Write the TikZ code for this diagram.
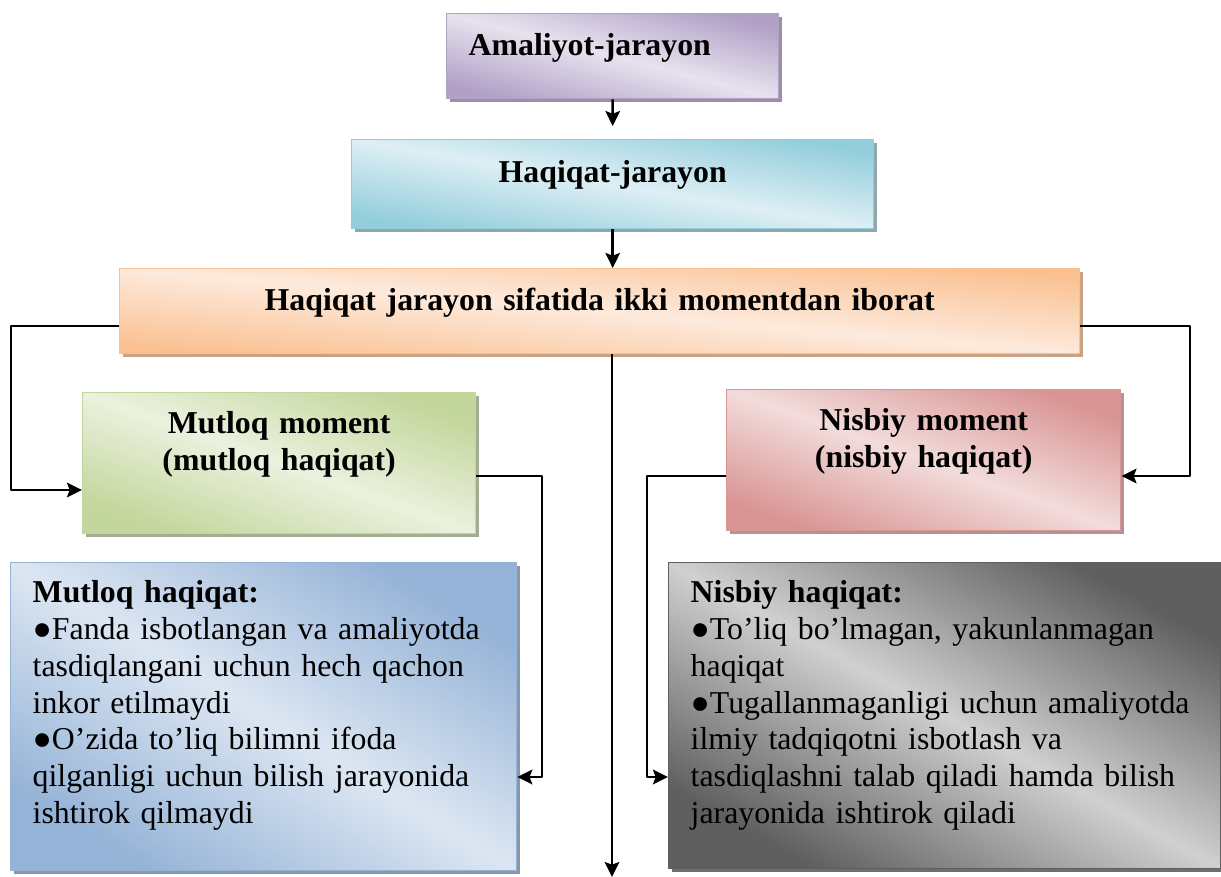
\documentclass[tikz,border=0pt]{standalone}
\usepackage{fontspec}
\setmainfont{Liberation Serif}
\usepackage{xcolor}
\usetikzlibrary{arrows.meta,shadows}

\definecolor{binaf}{HTML}{B2A1C7}\definecolor{binafoch}{HTML}{E7E2EE}\definecolor{binafsoya}{HTML}{9A90A6}
\definecolor{havo}{HTML}{92CDDC}\definecolor{havooch}{HTML}{DDEFF4}\definecolor{havosoya}{HTML}{8FA8AE}
\definecolor{apelsin}{HTML}{FAC090}\definecolor{apelsinoch}{HTML}{FDEADC}\definecolor{apelsinsoya}{HTML}{C9A384}
\definecolor{yashil}{HTML}{C3D69B}\definecolor{yashiloch}{HTML}{EBF1DE}\definecolor{yashilsoya}{HTML}{A4AC92}
\definecolor{pushti}{HTML}{D99594}\definecolor{pushtioch}{HTML}{F2DCDB}\definecolor{pushtisoya}{HTML}{B39393}
\definecolor{kok}{HTML}{95B3D7}\definecolor{kokoch}{HTML}{DCE6F2}\definecolor{koksoya}{HTML}{8A97A6}
\definecolor{kulrang}{HTML}{5F5F5F}\definecolor{kulrangoch}{HTML}{D0D0D0}\definecolor{kulrangsoya}{HTML}{6E6E6E}

\tikzset{
	kart/.style n args={3}{draw=#1, line width=0.6pt, left color=#1, right color=#1, middle color=#2,
		shading angle=-45, general shadow={fill=#3, shadow xshift=1.4pt, shadow yshift=-1.4pt},
		anchor=north west, inner xsep=9.7pt, inner ysep=0pt, font=\fontsize{14}{16.2}\selectfont},
	strelka/.style={-{Stealth[length=6.6pt,width=6.4pt,inset=1.2pt]}, line width=1.1pt},
}

\begin{document}
\begin{tikzpicture}[x=0.44pt,y=-0.44pt,line join=round]
\useasboundingbox (0,0) rectangle (1221,877);
\node[kart={binaf}{binafoch}{binafsoya}, shading angle=-14.4, text width=126.7pt, align=left,
	text height=18.5pt, text depth=18.9pt] (amal) at (446,13) {\textbf{Amaliyot-jarayon}};
\node[kart={havo}{havooch}{havosoya}, shading angle=-9.7, text width=210.3pt, align=center,
	text height=18.9pt, text depth=20.3pt] (haq) at (351,139) {\textbf{Haqiqat-jarayon}};
\node[kart={apelsin}{apelsinoch}{apelsinsoya}, shading angle=-5.1, text width=403pt, align=center,
	text height=18.5pt, text depth=18.9pt] (jar) at (119,268) {\textbf{Haqiqat jarayon sifatida ikki momentdan iborat}};
\node[kart={yashil}{yashiloch}{yashilsoya}, shading angle=-19.7, text width=153.5pt, align=center,
	text height=18pt, text depth=44pt] (mutloq) at (82,392) {\textbf{Mutloq moment}\\\textbf{(mutloq haqiqat)}};
\node[kart={pushti}{pushtioch}{pushtisoya}, shading angle=-19.7, text width=154pt, align=center,
	text height=18pt, text depth=44pt] (nisbiy) at (726,389) {\textbf{Nisbiy moment}\\\textbf{(nisbiy haqiqat)}};
\node[kart={kok}{kokoch}{koksoya}, shading angle=-31.3, text width=203.2pt, align=left,
	text height=17.6pt, text depth=117.9pt] (mutlhaq) at (10,562)
	{\textbf{Mutloq haqiqat:}\\
	●Fanda isbotlangan va amaliyotda\\
	tasdiqlangani uchun hech qachon\\
	inkor etilmaydi\\
	●O’zida to’liq bilimni ifoda\\
	qilganligi uchun bilish jarayonida\\
	ishtirok qilmaydi};
\node[kart={kulrang}{kulrangoch}{kulrangsoya}, shading angle=-29, text width=223.5pt, align=left,
	text height=17.6pt, text depth=117pt] (nisbhaq) at (668,562)
	{\textbf{Nisbiy haqiqat:}\\
	●To’liq bo’lmagan, yakunlanmagan\\
	haqiqat\\
	●Tugallanmaganligi uchun amaliyotda\\
	ilmiy tadqiqotni isbotlash va\\
	tasdiqlashni talab qiladi hamda bilish\\
	jarayonida ishtirok qiladi};
\coordinate (pastki) at (612,877);
% vertikal oqim
\draw[strelka, shorten >=5.7pt] (amal) -- (haq);
\draw[strelka] (haq.south) -- (haq.south |- jar.north);
\draw[strelka] (jar.south -| pastki) -- (pastki);
% ikki moment
\draw[strelka] (jar.west |- 0,326) -| (11,490) -- (mutloq.west |- 0,490);
\draw[strelka] (jar.east |- 0,326) -| (1190,476) -- (nisbiy.east |- 0,476);
\draw[strelka] (mutloq.east |- 0,476) -| (542,777) -- (mutlhaq.east |- 0,777);
\draw[strelka] (nisbiy.west |- 0,476) -| (647,777) -- (nisbhaq.west |- 0,777);
\end{tikzpicture}
\end{document}
